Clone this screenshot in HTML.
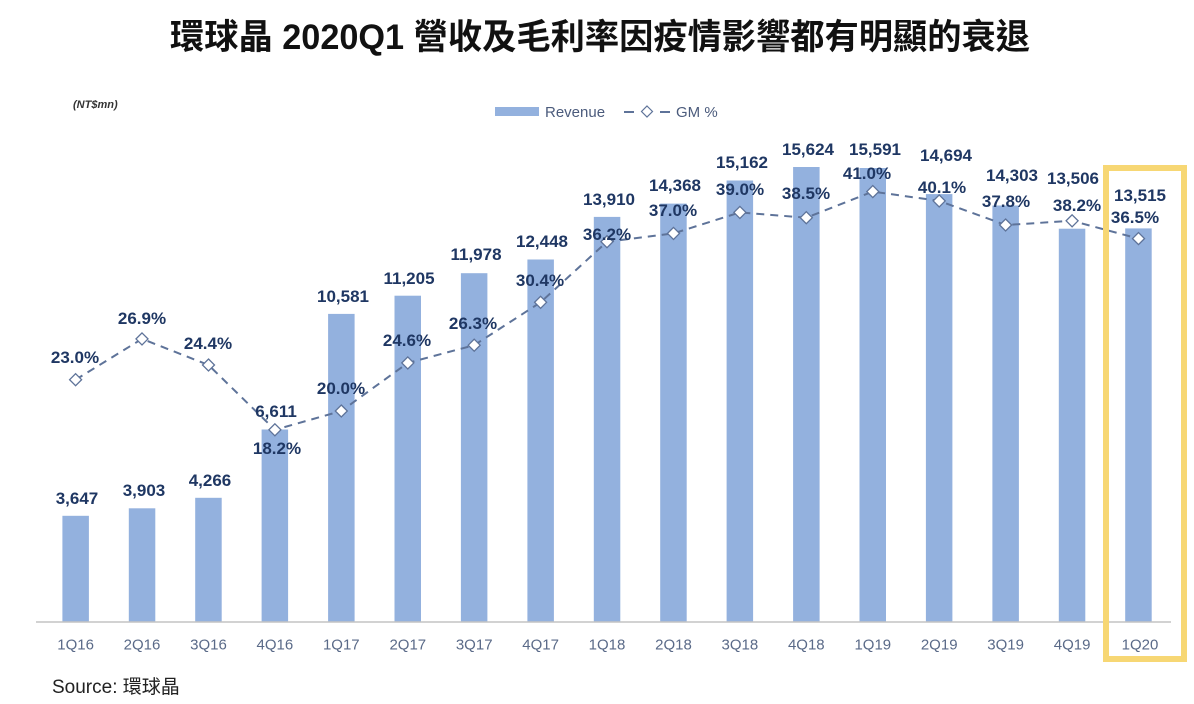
<!DOCTYPE html>
<html>
<head>
<meta charset="utf-8">
<style>
  html,body{margin:0;padding:0;background:#fff;}
  svg{display:block;}
  .rv{font-family:"Liberation Sans","Noto Sans CJK TC",sans-serif;font-weight:bold;font-size:17px;fill:#1f3763;text-anchor:middle;}
  .xl{font-family:"Liberation Sans",sans-serif;font-size:15px;fill:#5a6a88;text-anchor:middle;}
</style>
</head>
<body>
<svg width="1194" height="704" viewBox="0 0 1194 704" xmlns="http://www.w3.org/2000/svg">
  <rect width="1194" height="704" fill="#ffffff"/>
  <!-- Title -->
  <text x="170" y="49" textLength="860" lengthAdjust="spacingAndGlyphs" font-family="'Liberation Sans','Noto Sans CJK TC',sans-serif" font-weight="bold" font-size="35" fill="#111">環球晶 2020Q1 營收及毛利率因疫情影響都有明顯的衰退</text>

  <!-- unit -->
  <text x="73" y="108" font-family="'Liberation Sans',sans-serif" font-weight="bold" font-style="italic" font-size="11" fill="#333">(NT$mn)</text>

  <!-- Legend -->
  <rect x="495" y="107" width="44" height="9" fill="#93b1de"/>
  <text x="545" y="117" font-family="'Liberation Sans',sans-serif" font-size="15" fill="#4b5b7c">Revenue</text>
  <line x1="624" y1="112" x2="634" y2="112" stroke="#5e7399" stroke-width="2"/>
  <path d="M647 106 L652.5 111.5 L647 117 L641.5 111.5 Z" fill="#fff" stroke="#5e7399" stroke-width="1.2"/>
  <line x1="660" y1="112" x2="670" y2="112" stroke="#5e7399" stroke-width="2"/>
  <text x="676" y="117" font-family="'Liberation Sans',sans-serif" font-size="15" fill="#4b5b7c">GM %</text>

  <!-- Bars -->
  <g fill="#93b1de">
    <rect x="62.4" y="515.8" width="26.5" height="106.2"/>
    <rect x="128.8" y="508.3" width="26.5" height="113.7"/>
    <rect x="195.2" y="497.8" width="26.5" height="124.2"/>
    <rect x="261.6" y="429.5" width="26.5" height="192.5"/>
    <rect x="328.1" y="313.9" width="26.5" height="308.1"/>
    <rect x="394.5" y="295.7" width="26.5" height="326.3"/>
    <rect x="460.9" y="273.2" width="26.5" height="348.8"/>
    <rect x="527.4" y="259.5" width="26.5" height="362.5"/>
    <rect x="593.8" y="216.9" width="26.5" height="405.1"/>
    <rect x="660.2" y="203.6" width="26.5" height="418.4"/>
    <rect x="726.6" y="180.5" width="26.5" height="441.5"/>
    <rect x="793.1" y="167.0" width="26.5" height="455.0"/>
    <rect x="859.5" y="168.0" width="26.5" height="454.0"/>
    <rect x="925.9" y="194.1" width="26.5" height="427.9"/>
    <rect x="992.4" y="205.5" width="26.5" height="416.5"/>
    <rect x="1058.8" y="228.7" width="26.5" height="393.3"/>
    <rect x="1125.2" y="228.4" width="26.5" height="393.6"/>
  </g>

  <!-- Axis -->
  <line x1="36" y1="622" x2="1171" y2="622" stroke="#c4c4c4" stroke-width="1.5"/>

  <!-- GM line -->
  <polyline fill="none" stroke="#5e7399" stroke-width="2" stroke-dasharray="8,6"
    points="75.6,379.7 142.0,338.9 208.5,365.0 274.9,429.8 341.3,411.0 407.8,362.9 474.2,345.2 540.6,302.3 607.0,241.7 673.5,233.4 739.9,212.4 806.3,217.7 872.8,191.6 939.2,200.9 1005.6,225.0 1072.1,220.8 1138.5,238.6"/>

  <!-- Markers -->
  <g fill="#fff" stroke="#5e7399" stroke-width="1.3">
    <path d="M75.6 373.7 l6 6 l-6 6 l-6 -6 Z"/>
    <path d="M142.0 332.9 l6 6 l-6 6 l-6 -6 Z"/>
    <path d="M208.5 359.0 l6 6 l-6 6 l-6 -6 Z"/>
    <path d="M274.9 423.8 l6 6 l-6 6 l-6 -6 Z"/>
    <path d="M341.3 405.0 l6 6 l-6 6 l-6 -6 Z"/>
    <path d="M407.8 356.9 l6 6 l-6 6 l-6 -6 Z"/>
    <path d="M474.2 339.2 l6 6 l-6 6 l-6 -6 Z"/>
    <path d="M540.6 296.3 l6 6 l-6 6 l-6 -6 Z"/>
    <path d="M607.0 235.7 l6 6 l-6 6 l-6 -6 Z"/>
    <path d="M673.5 227.4 l6 6 l-6 6 l-6 -6 Z"/>
    <path d="M739.9 206.4 l6 6 l-6 6 l-6 -6 Z"/>
    <path d="M806.3 211.7 l6 6 l-6 6 l-6 -6 Z"/>
    <path d="M872.8 185.6 l6 6 l-6 6 l-6 -6 Z"/>
    <path d="M939.2 194.9 l6 6 l-6 6 l-6 -6 Z"/>
    <path d="M1005.6 219.0 l6 6 l-6 6 l-6 -6 Z"/>
    <path d="M1072.1 214.8 l6 6 l-6 6 l-6 -6 Z"/>
    <path d="M1138.5 232.6 l6 6 l-6 6 l-6 -6 Z"/>
  </g>

  <!-- Revenue labels -->
  <text class="rv" x="77" y="504">3,647</text>
  <text class="rv" x="144" y="496">3,903</text>
  <text class="rv" x="210" y="486">4,266</text>
  <text class="rv" x="276" y="417">6,611</text>
  <text class="rv" x="343" y="302">10,581</text>
  <text class="rv" x="409" y="284">11,205</text>
  <text class="rv" x="476" y="260">11,978</text>
  <text class="rv" x="542" y="247">12,448</text>
  <text class="rv" x="609" y="205">13,910</text>
  <text class="rv" x="675" y="191">14,368</text>
  <text class="rv" x="742" y="168">15,162</text>
  <text class="rv" x="808" y="155">15,624</text>
  <text class="rv" x="875" y="155">15,591</text>
  <text class="rv" x="946" y="161">14,694</text>
  <text class="rv" x="1012" y="181">14,303</text>
  <text class="rv" x="1073" y="184">13,506</text>
  <text class="rv" x="1140" y="201">13,515</text>

  <!-- GM labels -->
  <text class="rv" x="75" y="363">23.0%</text>
  <text class="rv" x="142" y="324">26.9%</text>
  <text class="rv" x="208" y="349">24.4%</text>
  <text class="rv" x="277" y="454">18.2%</text>
  <text class="rv" x="341" y="394">20.0%</text>
  <text class="rv" x="407" y="346">24.6%</text>
  <text class="rv" x="473" y="329">26.3%</text>
  <text class="rv" x="540" y="286">30.4%</text>
  <text class="rv" x="607" y="240">36.2%</text>
  <text class="rv" x="673" y="216">37.0%</text>
  <text class="rv" x="740" y="195">39.0%</text>
  <text class="rv" x="806" y="199">38.5%</text>
  <text class="rv" x="867" y="179">41.0%</text>
  <text class="rv" x="942" y="193">40.1%</text>
  <text class="rv" x="1006" y="207">37.8%</text>
  <text class="rv" x="1077" y="211">38.2%</text>
  <text class="rv" x="1135" y="223">36.5%</text>

  <!-- X labels -->
  <text class="xl" x="75.6" y="649.5">1Q16</text>
  <text class="xl" x="142.0" y="649.5">2Q16</text>
  <text class="xl" x="208.5" y="649.5">3Q16</text>
  <text class="xl" x="274.9" y="649.5">4Q16</text>
  <text class="xl" x="341.3" y="649.5">1Q17</text>
  <text class="xl" x="407.8" y="649.5">2Q17</text>
  <text class="xl" x="474.2" y="649.5">3Q17</text>
  <text class="xl" x="540.6" y="649.5">4Q17</text>
  <text class="xl" x="607.0" y="649.5">1Q18</text>
  <text class="xl" x="673.5" y="649.5">2Q18</text>
  <text class="xl" x="739.9" y="649.5">3Q18</text>
  <text class="xl" x="806.3" y="649.5">4Q18</text>
  <text class="xl" x="872.8" y="649.5">1Q19</text>
  <text class="xl" x="939.2" y="649.5">2Q19</text>
  <text class="xl" x="1005.6" y="649.5">3Q19</text>
  <text class="xl" x="1072.1" y="649.5">4Q19</text>
  <text class="xl" x="1140" y="649.5">1Q20</text>

  <!-- Highlight box -->
  <rect x="1106" y="168" width="78" height="491" fill="none" stroke="#f7d774" stroke-width="6"/>

  <!-- Source -->
  <text x="52" y="693" font-family="'Liberation Sans','Noto Sans CJK TC',sans-serif" font-size="19" fill="#222">Source: 環球晶</text>
</svg>
</body>
</html>
